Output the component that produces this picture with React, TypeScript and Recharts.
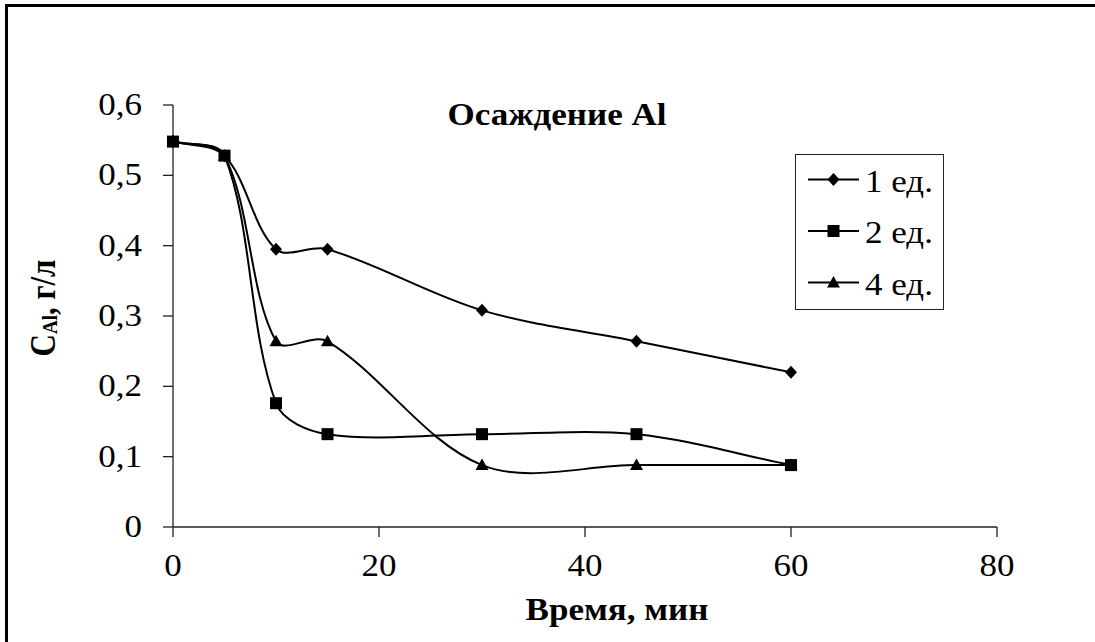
import React from 'react';
import { LineChart, Line, XAxis, YAxis, Legend, Customized } from 'recharts';

const times = [0, 5, 10, 15, 30, 45, 60];
const seriesNames = ['1 ед.', '2 ед.', '4 ед.'];
const series1 = [0.548, 0.528, 0.395, 0.395, 0.308, 0.264, 0.22];
const series2 = [0.548, 0.528, 0.176, 0.132, 0.132, 0.132, 0.088];
const series3 = [0.548, 0.528, 0.264, 0.264, 0.088, 0.088, 0.088];
const xTicks = [0, 20, 40, 60, 80];
const yTicks = [0, 0.1, 0.2, 0.3, 0.4, 0.5, 0.6];
const chartTitle = 'Осаждение Al';
const xTitle = 'Время, мин';
const yTitleMain = 'C';
const yTitleSub = 'Al';
const yTitleRest = ', г/л';

const data = times.map((t, i) => ({ t, s1: series1[i], s2: series2[i], s3: series3[i] }));

const FONT = "'Liberation Serif', 'DejaVu Serif', serif";
const SX = 1.13;
const FS = 31;

function excelCurve(context: any) {
  let pts: number[][] = [];
  const dist = (a: number[], b: number[]) => Math.hypot(b[0] - a[0], b[1] - a[1]);
  return {
    areaStart() {},
    areaEnd() {},
    lineStart() {
      pts = [];
    },
    point(x: number, y: number) {
      pts.push([+x, +y]);
    },
    lineEnd() {
      const n = pts.length;
      if (n === 0) return;
      context.moveTo(pts[0][0], pts[0][1]);
      if (n === 1) return;
      for (let i = 0; i < n - 1; i++) {
        const p0 = pts[Math.max(i - 1, 0)];
        const p1 = pts[i];
        const p2 = pts[i + 1];
        const p3 = pts[Math.min(i + 2, n - 1)];
        const d01 = dist(p0, p1);
        const d12 = dist(p1, p2);
        const d23 = dist(p2, p3);
        const f1 = d01 + d12 > 0 ? d12 / (d01 + d12) / 3 : 0;
        const f2 = d12 + d23 > 0 ? d12 / (d12 + d23) / 3 : 0;
        context.bezierCurveTo(
          p1[0] + (p2[0] - p0[0]) * f1,
          p1[1] + (p2[1] - p0[1]) * f1,
          p2[0] - (p3[0] - p1[0]) * f2,
          p2[1] - (p3[1] - p1[1]) * f2,
          p2[0],
          p2[1]
        );
      }
    },
  };
}

const Diamond = ({ cx, cy }: any) => (
  <path d={`M${cx},${cy - 6.5}L${cx + 6},${cy}L${cx},${cy + 6.5}L${cx - 6},${cy}Z`} fill="#000" />
);
const Square = ({ cx, cy }: any) => <rect x={cx - 6} y={cy - 6} width={12} height={12} fill="#000" />;
const Triangle = ({ cx, cy }: any) => (
  <path d={`M${cx},${cy - 6.5}L${cx + 6.5},${cy + 5}L${cx - 6.5},${cy + 5}Z`} fill="#000" />
);
const markers = [Diamond, Square, Triangle];

const makeDot = (M: any) => (props: any) => {
  const { cx, cy, index } = props;
  if (cx == null || cy == null) return <g key={`d${index}`} />;
  return <M key={`d${index}`} cx={cx} cy={cy} />;
};

const fmt = (v: number) => (v === 0 ? '0' : v.toFixed(1).replace('.', ','));

const textStyle = { fontFamily: FONT };

const YTick = (props: any) => {
  const { x, y, payload } = props;
  return (
    <text
      transform={`translate(${x},${y}) scale(${SX},1)`}
      textAnchor="end"
      dy={10}
      style={textStyle}
      fontSize={FS}
      fill="#000"
    >
      {fmt(payload.value)}
    </text>
  );
};

const XTick = (props: any) => {
  const { x, y, payload } = props;
  return (
    <text
      transform={`translate(${x},${y}) scale(${SX},1)`}
      textAnchor="middle"
      dy={39}
      style={textStyle}
      fontSize={FS}
      fill="#000"
    >
      {String(payload.value)}
    </text>
  );
};

const LegendBox = (props: any) => {
  const payload = props.payload || [];
  return (
    <svg width={150} height={157} style={{ display: 'block' }}>
      <rect x={0.5} y={0.5} width={148} height={155} fill="#fff" stroke="#222" strokeWidth={1} />
      {payload.map((entry: any, i: number) => {
        const cy = 25.5 + i * 51.5;
        const M = markers[i % markers.length];
        return (
          <g key={i}>
            <line x1={13} x2={64} y1={cy} y2={cy} stroke="#000" strokeWidth={2} />
            <M cx={38.5} cy={cy} />
            <text
              transform={`translate(70,${cy + 12}) scale(${SX},1)`}
              style={textStyle}
              fontSize={FS}
              fill="#000"
            >
              {entry.value}
            </text>
          </g>
        );
      })}
    </svg>
  );
};

const Titles = () => (
  <g>
    <text
      transform={`translate(557,125) scale(${SX},1)`}
      textAnchor="middle"
      style={textStyle}
      fontSize={FS}
      fontWeight="bold"
      fill="#000"
    >
      {chartTitle}
    </text>
    <text
      transform={`translate(617,620) scale(${SX},1)`}
      textAnchor="middle"
      style={textStyle}
      fontSize={FS}
      fontWeight="bold"
      fill="#000"
    >
      {xTitle}
    </text>
    <text
      transform={`translate(55,308) rotate(-90) scale(1,${SX})`}
      textAnchor="middle"
      style={textStyle}
      fontSize={FS}
      fontWeight="bold"
      fill="#000"
    >
      <tspan>{yTitleMain}</tspan>
      <tspan fontSize={19} dy={2}>{yTitleSub}</tspan>
      <tspan dy={-2}>{yTitleRest}</tspan>
    </text>
  </g>
);

const seriesKeys = ['s1', 's2', 's3'];

export default function App() {
  return (
    <div
      style={{
        position: 'absolute',
        left: 0,
        top: 0,
        width: 1095,
        height: 642,
        background: '#fff',
        overflow: 'hidden',
      }}
    >
      <div
        style={{
          position: 'absolute',
          left: 5,
          top: 4,
          width: 1300,
          height: 900,
          borderLeft: '3px solid #000',
          borderTop: '3px solid #000',
        }}
      />
      <div style={{ position: 'absolute', left: 0, top: 0 }}>
        <LineChart
          width={1095}
          height={642}
          data={data}
          margin={{ top: 105, right: 98, left: 113, bottom: 55 }}
        >
          <XAxis
            dataKey="t"
            type="number"
            domain={[0, 80]}
            ticks={xTicks}
            interval={0}
            height={60}
            tickSize={10}
            tickMargin={0}
            tick={<XTick />}
            axisLine={{ stroke: '#222', strokeWidth: 1.3 }}
            tickLine={{ stroke: '#222', strokeWidth: 1.3 }}
          />
          <YAxis
            type="number"
            domain={[0, 0.6]}
            ticks={yTicks}
            interval={0}
            width={60}
            tickSize={10}
            tickMargin={21}
            tick={<YTick />}
            axisLine={{ stroke: '#222', strokeWidth: 1.3 }}
            tickLine={{ stroke: '#222', strokeWidth: 1.3 }}
          />
          {seriesKeys.map((k, i) => (
            <Line
              key={k}
              dataKey={k}
              name={seriesNames[i]}
              type={excelCurve as any}
              stroke="#000"
              strokeWidth={2}
              dot={makeDot(markers[i]) as any}
              activeDot={false}
              isAnimationActive={false}
            />
          ))}
          <Legend
            layout="horizontal"
            verticalAlign="middle"
            align="center"
            content={<LegendBox />}
            wrapperStyle={{ position: 'absolute', left: 795, top: 154, width: 150, height: 157, margin: 0, padding: 0 }}
          />
          <Customized component={Titles} />
        </LineChart>
      </div>
    </div>
  );
}
